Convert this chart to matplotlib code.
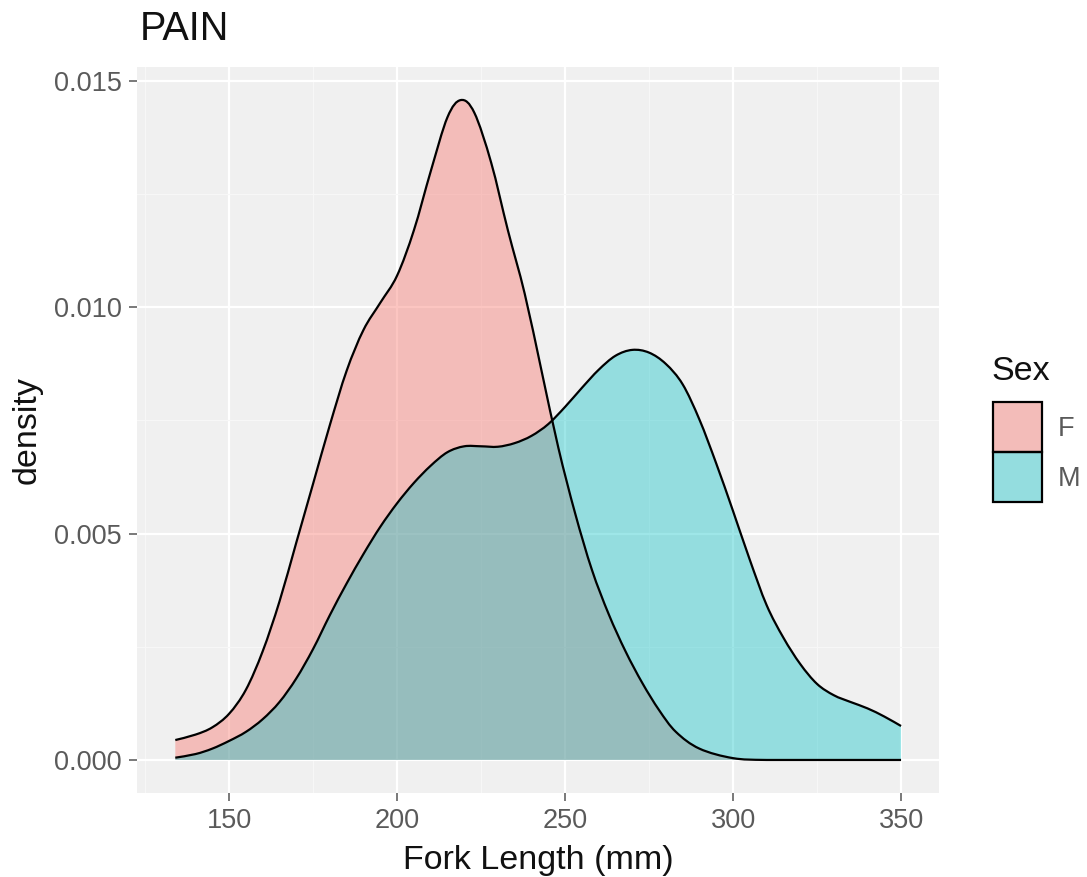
import numpy as np
import matplotlib
matplotlib.use("Agg")
import matplotlib.pyplot as plt
from matplotlib.path import Path
from matplotlib.patches import PathPatch, Rectangle

plt.rcParams['font.family'] = ['Liberation Sans', 'DejaVu Sans']

# Kernel density estimates of fork length by sex (mm, density)
f_length = [134, 140, 145, 150, 155, 160, 165, 170, 175, 180, 185, 190, 195, 200,
            205, 210, 215, 219, 223, 228, 233, 238, 243, 248, 253, 258, 263, 268,
            273, 278, 283, 290, 300, 310, 330, 350]
f_density = [0.00044, 0.00056, 0.00072, 0.00102, 0.00155, 0.00240, 0.00350, 0.00480,
             0.00610, 0.00740, 0.00860, 0.00950, 0.01010, 0.01070, 0.01170, 0.01300,
             0.01420, 0.01458, 0.01430, 0.01320, 0.01170, 0.01030, 0.00860, 0.00690,
             0.00545, 0.00420, 0.00322, 0.00240, 0.00170, 0.00110, 0.00062, 0.00025,
             0.00004, 0.0, 0.0, 0.0]

m_length = [134, 140, 145, 150, 155, 160, 165, 170, 175, 180, 185, 190, 195, 200,
            205, 210, 215, 220, 225, 230, 235, 240, 245, 250, 255, 260, 265, 270,
            275, 280, 285, 290, 295, 300, 305, 310, 315, 320, 325, 330, 335, 340,
            345, 350]
m_density = [0.00005, 0.00013, 0.00025, 0.00042, 0.00062, 0.00090, 0.00128, 0.00180,
             0.00245, 0.00320, 0.00390, 0.00455, 0.00515, 0.00567, 0.00612, 0.00650,
             0.00680, 0.00693, 0.00693, 0.00692, 0.00700, 0.00716, 0.00742, 0.00780,
             0.00822, 0.00862, 0.00893, 0.00906, 0.00900, 0.00875, 0.00830, 0.00752,
             0.00655, 0.00550, 0.00442, 0.00342, 0.00270, 0.00212, 0.00168, 0.00143,
             0.00128, 0.00114, 0.00096, 0.00075]

sexes = ["F", "M"]
fill_colors = ["#F8766D", "#00BFC4"]
fill_alpha = [0.42, 0.38]

x_ticks = [150, 200, 250, 300, 350]
y_ticks = [0.000, 0.005, 0.010, 0.015]

PANEL_BG = "#F0F0F0"


def smooth_path(xs, ys):
    """Catmull-Rom curve through the points, expressed as cubic Bezier segments."""
    pts = np.column_stack([xs, ys]).astype(float)
    n = len(pts)
    verts = [pts[0]]
    codes = [Path.MOVETO]
    for i in range(n - 1):
        p0 = pts[i - 1] if i > 0 else pts[i]
        p1 = pts[i]
        p2 = pts[i + 1]
        p3 = pts[i + 2] if i + 2 < n else pts[i + 1]
        c1 = p1 + (p2 - p0) / 6.0
        c2 = p2 - (p3 - p1) / 6.0
        c1[1] = max(c1[1], 0.0)
        c2[1] = max(c2[1], 0.0)
        verts += [c1, c2, p2]
        codes += [Path.CURVE4] * 3
    return verts, codes


W, H = 1087, 877
fig = plt.figure(figsize=(W / 100, H / 100), dpi=100)
fig.patch.set_facecolor("white")
ax = fig.add_axes([137 / W, (H - 793) / H, (939 - 137) / W, (793 - 67) / H])
ax.set_facecolor(PANEL_BG)

ax.set_xlim(122.6, 361.3)
ax.set_ylim(-0.00073, 0.01531)

# grid: major and minor lines, faint on the light panel
for xv in np.arange(125, 375, 25):
    major = xv % 50 == 0
    ax.axvline(xv, color="white" if major else "#F7F7F7",
               lw=1.6 if major else 0.8, zorder=0.5)
for k, yv in enumerate(np.arange(0, 0.0151, 0.0025)):
    major = k % 2 == 0
    ax.axhline(yv, color="white" if major else "#F7F7F7",
               lw=1.6 if major else 0.8, zorder=0.5)

for (xs, ys), col, al in zip([(f_length, f_density), (m_length, m_density)],
                             fill_colors, fill_alpha):
    verts, codes = smooth_path(xs, ys)
    fverts = verts + [(xs[-1], 0.0), (xs[0], 0.0), (xs[0], 0.0)]
    fcodes = codes + [Path.LINETO, Path.LINETO, Path.CLOSEPOLY]
    ax.add_patch(PathPatch(Path(fverts, fcodes), facecolor=col, alpha=al,
                           edgecolor="none", zorder=2))
    ax.add_patch(PathPatch(Path(verts, codes), facecolor="none",
                           edgecolor="black", lw=1.6, zorder=3))

for s in ax.spines.values():
    s.set_visible(False)

ax.set_xticks(x_ticks)
ax.set_xticklabels([str(v) for v in x_ticks])
ax.set_yticks(y_ticks)
ax.set_yticklabels([f"{v:.3f}" for v in y_ticks])
ax.tick_params(axis="both", length=6, width=1.1, color="#555555",
               labelcolor="#5A5A5A", labelsize=19.5, pad=5)

ax.set_xlabel("Fork Length (mm)", fontsize=24.5, color="#111111", labelpad=8)
ax.set_ylabel("density", fontsize=24.5, color="#111111", labelpad=8)

fig.text(140 / W, 1 - 29 / H, "PAIN", fontsize=28.5, ha="left", va="center",
         color="#111111")

# legend
fig.text(991 / W, 1 - 372 / H, "Sex", fontsize=24.5, ha="left", va="center",
         color="#111111")
key_tops = [402, 452]
for top, lab, col, al in zip(key_tops, sexes, fill_colors, fill_alpha):
    box = (993 / W, 1 - (top + 50) / H)
    fig.patches.append(Rectangle(box, 49 / W, 50 / H, transform=fig.transFigure,
                                 facecolor=PANEL_BG, edgecolor="none", zorder=1))
    fig.patches.append(Rectangle(box, 49 / W, 50 / H, transform=fig.transFigure,
                                 facecolor=col, alpha=al, edgecolor="none", zorder=2))
    fig.patches.append(Rectangle(box, 49 / W, 50 / H, transform=fig.transFigure,
                                 facecolor="none", edgecolor="black", lw=1.6, zorder=3))
    fig.text(1058 / W, 1 - (top + 27) / H, lab, fontsize=19.5, color="#5A5A5A",
             ha="left", va="center")

fig.savefig("out.png", dpi=100)
